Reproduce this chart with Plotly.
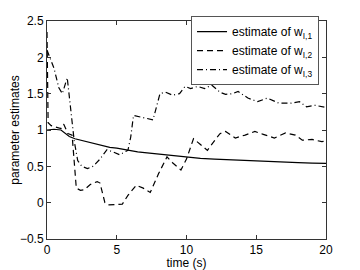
import plotly.graph_objects as go

t1 = [0, 0.5, 1.0, 1.3, 1.6, 2.0, 2.4, 3.0, 3.5, 4.0, 4.5, 5.0, 5.5, 6.0, 6.5, 7.0,
      8.0, 9.0, 10.0, 11.0, 12.0, 13.0, 14.0, 15.0, 16.0, 17.0, 18.0, 19.0, 20.0]
w1 = [1.0, 1.01, 1.0, 0.95, 0.91, 0.88, 0.86, 0.84, 0.81, 0.79, 0.76, 0.75, 0.73, 0.72,
      0.70, 0.69, 0.67, 0.645, 0.625, 0.61, 0.60, 0.59, 0.58, 0.57, 0.56, 0.555, 0.55,
      0.545, 0.54]

t2 = [0, 0.08, 0.3, 0.7, 1.0, 1.2, 1.5, 1.8, 1.95, 2.1, 2.4, 2.7, 3.1, 3.6, 3.8, 4.15,
      4.4, 5.0, 5.4, 5.8, 6.4, 6.9, 7.4, 8.0, 8.6, 9.0, 9.6, 10.0, 10.5, 11.0, 11.5,
      12.0, 12.4, 12.8, 13.5, 14.2, 14.9, 15.5, 16.3, 17.1, 17.8, 18.3, 19.0, 19.7, 20.0]
w2 = [2.35, 1.1, 1.06, 1.04, 1.02, 1.08, 0.95, 0.93, 0.6, 0.2, 0.17, 0.18, 0.25, 0.29,
      0.27, 0.0, -0.03, -0.03, -0.02, 0.1, 0.24, 0.2, 0.14, 0.4, 0.63, 0.55, 0.45, 0.6,
      0.88, 0.8, 0.72, 0.85, 0.95, 0.98, 0.89, 0.93, 0.98, 0.94, 0.89, 0.96, 0.93, 0.86,
      0.87, 0.84, 0.85]

t3 = [0, 0.1, 0.5, 0.85, 1.1, 1.45, 1.7, 1.95, 2.2, 2.5, 2.9, 3.3, 3.8, 4.3, 4.7, 5.2,
      5.8, 6.0, 6.2, 6.6, 7.1, 7.6, 8.1, 8.5, 9.0, 9.5, 9.9, 10.3, 10.8, 11.3, 11.8,
      12.4, 12.8, 13.3, 13.7, 14.4, 15.1, 15.8, 16.6, 17.5, 18.1, 18.6, 19.2, 20.0]
w3 = [2.1, 2.05, 1.85, 1.58, 1.5, 1.72, 1.3, 0.85, 0.58, 0.5, 0.47, 0.5, 0.6, 0.73,
      0.7, 0.66, 0.72, 0.9, 1.2, 1.18, 1.16, 1.14, 1.5, 1.52, 1.48, 1.5, 1.6, 1.57,
      1.6, 1.57, 1.62, 1.52, 1.49, 1.5, 1.53, 1.44, 1.39, 1.44, 1.37, 1.37, 1.39, 1.32,
      1.34, 1.31]

names = ["estimate of w<sub>I,1</sub>", "estimate of w<sub>I,2</sub>",
         "estimate of w<sub>I,3</sub>"]
x_ticks = [0, 5, 10, 15, 20]
y_ticks = [-0.5, 0, 0.5, 1, 1.5, 2, 2.5]
y_tick_text = ["\u22120.5", "0", "0.5", "1", "1.5", "2", "2.5"]

fig = go.Figure()
fig.add_trace(go.Scatter(x=t1, y=w1, mode="lines", name=names[0],
                         line=dict(color="black", width=1.2)))
fig.add_trace(go.Scatter(x=t2, y=w2, mode="lines", name=names[1],
                         line=dict(color="black", width=1.2, dash="6px,4px")))
fig.add_trace(go.Scatter(x=t3, y=w3, mode="lines", name=names[2],
                         line=dict(color="black", width=1.2, dash="6px,3px,1px,3px")))

axis_common = dict(showline=True, linecolor="#333333", linewidth=1, mirror="ticks",
                   ticks="inside", ticklen=4, tickcolor="#333333", showgrid=False,
                   zeroline=False, tickfont=dict(size=12, color="black"),
                   automargin=False)
fig.update_xaxes(range=[0, 20], tickvals=x_ticks,
                 title=dict(text="time (s)", font=dict(size=12, color="black")),
                 **axis_common)
fig.update_yaxes(range=[-0.5, 2.5], tickvals=y_ticks, ticktext=y_tick_text,
                 title=dict(text="parameter estimates", font=dict(size=12, color="black")),
                 **axis_common)

# page body has an 8px default margin, so the figure is sized/positioned to compensate
fig.update_layout(
    width=352, height=262,
    margin=dict(l=39, r=34, t=13, b=31, autoexpand=False),
    paper_bgcolor="white", plot_bgcolor="white",
    font=dict(family="Liberation Sans, Arial, sans-serif", size=12, color="black"),
    legend=dict(x=0.975, y=1.022, xanchor="right", yanchor="top",
                bgcolor="white", bordercolor="#555555", borderwidth=1,
                font=dict(size=12), tracegroupgap=0, itemwidth=30),
    showlegend=True,
)

fig.write_html("out.html")
